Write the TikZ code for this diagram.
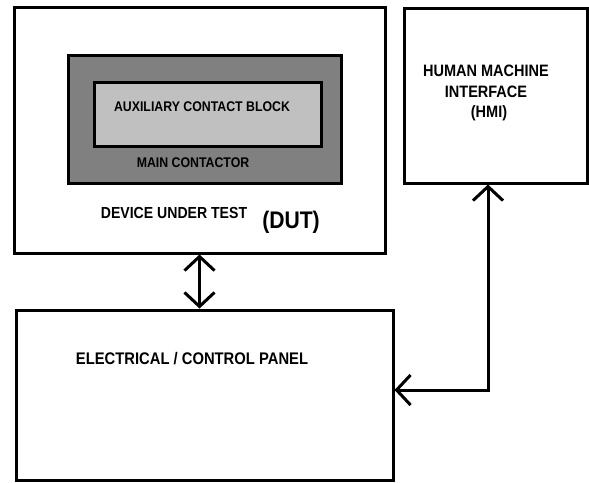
\documentclass[tikz,border=0pt]{standalone}
\usepackage{fontspec}
\setmainfont{Liberation Sans}
\usetikzlibrary{arrows.meta}
\definecolor{contactgray}{HTML}{808080}
\definecolor{blockgray}{HTML}{C0C0C0}
\newcommand{\narrowtext}[1]{\scalebox{0.88}[1]{#1}}
\begin{document}
\begin{tikzpicture}[x=1pt, y=-1pt,
    box/.style = {draw, line width=3pt, rectangle, inner sep=0pt},
    lbl/.style = {inner sep=0pt, font=\bfseries\fontsize{#1}{#1}\selectfont},
    conn/.style = {line width=3pt, {Straight Barb[length=14pt, width=30pt, line width=3pt]}-{Straight Barb[length=14pt, width=30pt, line width=3pt]}}]
            \useasboundingbox (0,0) rectangle (589,482);
            \node[box, minimum width=371, minimum height=246] (dut) at (199.5,130) {};
            \node[box, fill=contactgray, minimum width=273, minimum height=128] (mc) at (204.5,119) {};
            \node[box, fill=blockgray, minimum width=227, minimum height=64] (acb) at (207.5,114) {};
            \node[box, minimum width=183, minimum height=175] (hmi) at (495.5,95.5) {};
            \node[box, minimum width=377, minimum height=170] (ecp) at (204.5,395) {};

            \node[lbl=14] (acblbl) at (202,107) {\narrowtext{AUXILIARY CONTACT BLOCK}};
            \node[lbl=14] (mclbl) at (193,163) {\narrowtext{MAIN CONTACTOR}};
            \node[lbl=16] (dutlbl) at (174,213) {\narrowtext{DEVICE UNDER TEST}};
            \node[lbl=24] (dutabbr) at (291,222) {\narrowtext{(DUT)}};
            \node[lbl=16.5, align=center] (hmilbl) at (486,93) {\narrowtext{HUMAN MACHINE}\\[4pt]\narrowtext{INTERFACE}\\[4pt]\hspace*{6pt}\narrowtext{(HMI)}};
            \node[lbl=16.8] (ecplbl) at (192,359) {\narrowtext{ELECTRICAL / CONTROL PANEL}};

            \draw[conn] (dut.south) -- (dut.south |- ecp.north);
            \draw[conn] ([xshift=-7.5pt]hmi.south) |- ([yshift=5pt]ecp.east);
\end{tikzpicture}
\end{document}
